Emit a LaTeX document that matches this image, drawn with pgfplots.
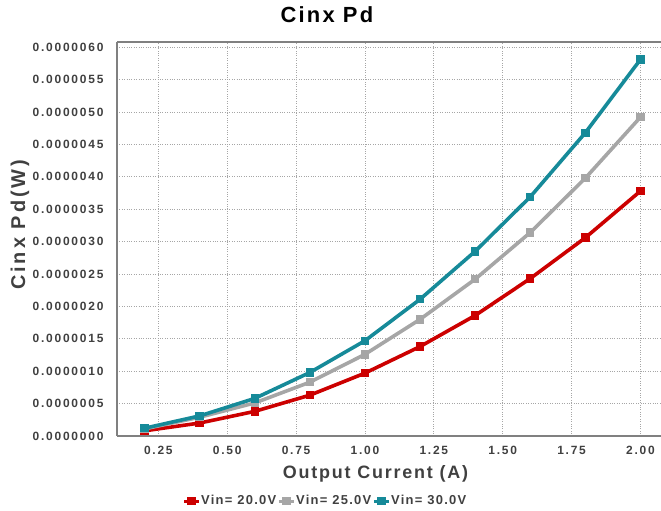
\documentclass[border=0pt]{standalone}
\usepackage{pgfplots}
\pgfplotsset{compat=1.18}
\usepackage{fontspec}
\setmainfont{Liberation Sans}
\newfontfamily\spaced[LetterSpace=15]{Liberation Sans}
\newfontfamily\spacedb[LetterSpace=10]{Liberation Sans}
\definecolor{cred}{HTML}{CC0000}
\definecolor{cgray}{HTML}{A6A6A6}
\definecolor{cteal}{HTML}{168A99}
\definecolor{ctext}{HTML}{404040}
\begin{document}
\begin{tikzpicture}[x=1bp,y=1bp]
\useasboundingbox (0,0) rectangle (661,511);
\begin{axis}[
  at={(117bp,75bp)}, anchor=south west,
  scale only axis, width=551bp, height=394bp,
  xmin=0.1, xmax=2.1, ymin=0, ymax=6.08e-6,
  axis x line=box, axis y line=left,
  axis line style={draw=gray, line width=1.5bp, -},
  xtick={0.25,0.5,0.75,1,1.25,1.5,1.75,2},
  ytick={0,0.5e-6,1e-6,1.5e-6,2e-6,2.5e-6,3e-6,3.5e-6,4e-6,4.5e-6,5e-6,5.5e-6,6e-6},
  scaled y ticks=false,
  /pgf/number format/assume math mode=true,
  yticklabel style={/pgf/number format/fixed, /pgf/number format/precision=7, /pgf/number format/fixed zerofill, font=\spaced\bfseries\fontsize{12}{14}\selectfont, text=ctext, xshift=-10bp},
  xticklabel style={/pgf/number format/fixed, /pgf/number format/precision=2, /pgf/number format/fixed zerofill, font=\spaced\bfseries\fontsize{12}{14}\selectfont, text=ctext, yshift=-7bp},
  major tick length=0pt,
  grid=major,
  major grid style={dotted, gray!70, line width=0.8bp},
  title={Cinx Pd},
  title style={at={(axis description cs:0.381,1.054)}, anchor=center, font=\spacedb\bfseries\fontsize{22}{24}\selectfont},
  xlabel={Output Current (A)},
  xlabel style={at={(axis description cs:0.469,-0.097)}, anchor=center, font=\spacedb\bfseries\fontsize{18}{20}\selectfont, text=ctext},
  ylabel={Cinx Pd(W)},
  ylabel style={at={(axis description cs:-0.176,0.536)}, anchor=center, rotate=0, font=\spaced\bfseries\fontsize{20}{22}\selectfont, text=ctext},
  legend columns=3,
  legend style={at={(axis description cs:0.377,-0.165)}, anchor=center, draw=none, fill=none, font=\spacedb\bfseries\fontsize{13}{15}\selectfont, text=ctext, nodes={inner sep=0.6bp}, /tikz/every even column/.append style={column sep=0.5bp}, inner sep=0pt},
  legend image code/.code={\draw[#1, line width=3bp] (0bp,0bp) -- (15bp,0bp); \draw[#1, mark size=2.6bp] plot coordinates {(7.5bp,0bp)};},
  every axis plot/.append style={line width=3.6bp, mark=square*, mark size=2.4bp, mark options={solid}},
  clip=false,
]
\addplot[cred, mark options={fill=cred}] coordinates {
(0.2,0.08e-6)(0.4,0.20e-6)(0.6,0.38e-6)(0.8,0.63e-6)(1.0,0.97e-6)(1.2,1.38e-6)(1.4,1.86e-6)(1.6,2.43e-6)(1.8,3.06e-6)(2.0,3.78e-6)};
\addlegendentry{Vin= 20.0V}
\addplot[cgray, mark options={fill=cgray}] coordinates {
(0.2,0.11e-6)(0.4,0.29e-6)(0.6,0.51e-6)(0.8,0.83e-6)(1.0,1.26e-6)(1.2,1.80e-6)(1.4,2.42e-6)(1.6,3.14e-6)(1.8,3.98e-6)(2.0,4.92e-6)};
\addlegendentry{Vin= 25.0V}
\addplot[cteal, mark options={fill=cteal}] coordinates {
(0.2,0.12e-6)(0.4,0.31e-6)(0.6,0.58e-6)(0.8,0.98e-6)(1.0,1.47e-6)(1.2,2.11e-6)(1.4,2.85e-6)(1.6,3.69e-6)(1.8,4.68e-6)(2.0,5.81e-6)};
\addlegendentry{Vin= 30.0V}
\end{axis}
\end{tikzpicture}
\end{document}
